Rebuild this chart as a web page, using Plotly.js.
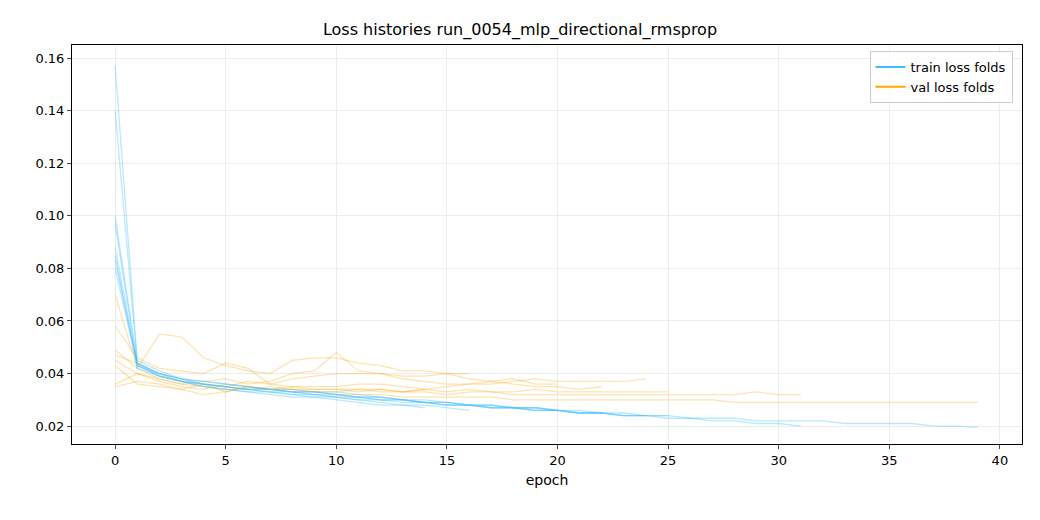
<!DOCTYPE html>
<html><head><meta charset="utf-8">
<script src="https://cdn.plot.ly/plotly-3.0.1.min.js"></script>
<style>body{margin:0;background:#fff}#c{width:1040px;height:520px}</style>
</head><body><div id="c"></div>
<script>
const trainFolds = [
[0.100,0.044,0.040,0.037,0.035,0.034,0.033,0.032,0.031,0.031,0.030,0.029,0.028,0.028,0.027],
[0.157,0.045,0.041,0.038,0.036,0.035,0.034,0.033,0.033,0.032,0.031,0.030,0.029,0.028,0.028,0.027,0.026],
[0.088,0.043,0.039,0.037,0.036,0.035,0.034,0.034,0.033,0.033,0.032,0.031,0.031,0.030,0.029,0.029,0.028,0.028,0.027,0.027,0.026],
[0.140,0.044,0.040,0.038,0.037,0.036,0.035,0.034,0.034,0.033,0.033,0.032,0.031,0.030,0.030,0.029,0.028,0.028,0.027,0.027,0.026,0.025,0.025],
[0.085,0.042,0.039,0.037,0.036,0.035,0.034,0.034,0.033,0.032,0.032,0.031,0.030,0.030,0.029,0.028,0.028,0.027,0.027,0.026,0.026,0.025,0.025,0.024,0.024],
[0.097,0.043,0.040,0.038,0.037,0.036,0.035,0.034,0.033,0.033,0.032,0.031,0.031,0.030,0.029,0.029,0.028,0.028,0.027,0.027,0.026,0.026,0.025,0.025,0.024,0.024],
[0.083,0.044,0.039,0.037,0.035,0.034,0.033,0.033,0.032,0.031,0.031,0.030,0.030,0.029,0.029,0.028,0.028,0.027,0.027,0.026,0.026,0.025,0.025,0.024,0.024,0.023,0.023,0.022,0.022,0.021,0.021,0.020],
[0.080,0.043,0.039,0.037,0.036,0.035,0.034,0.033,0.032,0.032,0.031,0.031,0.030,0.030,0.029,0.028,0.028,0.027,0.027,0.026,0.026,0.025,0.025,0.024,0.024,0.024,0.023,0.023,0.023,0.022,0.022,0.022,0.022,0.021,0.021,0.021,0.021,0.020,0.020,0.0195]
];
const valFolds = [
[0.045,0.040,0.037,0.035,0.034,0.036,0.035,0.034,0.035,0.034,0.034,0.033,0.034,0.033,0.034],
[0.049,0.042,0.055,0.054,0.046,0.043,0.041,0.040,0.045,0.046,0.046,0.044,0.043,0.041,0.041,0.040,0.040],
[0.036,0.040,0.038,0.036,0.037,0.038,0.036,0.037,0.040,0.041,0.048,0.041,0.040,0.039,0.039,0.040,0.038,0.037,0.038,0.036,0.036],
[0.058,0.046,0.042,0.041,0.040,0.044,0.042,0.036,0.035,0.035,0.035,0.036,0.036,0.035,0.034,0.035,0.036,0.037,0.036,0.035,0.035,0.034,0.035],
[0.047,0.044,0.040,0.038,0.036,0.035,0.037,0.036,0.038,0.039,0.040,0.040,0.040,0.038,0.037,0.036,0.036,0.036,0.037,0.038,0.037,0.037,0.037,0.037,0.038],
[0.070,0.042,0.038,0.036,0.035,0.034,0.034,0.035,0.034,0.034,0.034,0.034,0.034,0.033,0.034,0.033,0.034,0.033,0.033,0.034,0.033,0.033,0.033,0.033,0.033,0.033],
[0.035,0.037,0.036,0.034,0.036,0.033,0.035,0.034,0.034,0.033,0.033,0.034,0.033,0.033,0.033,0.032,0.033,0.033,0.032,0.032,0.032,0.032,0.032,0.032,0.032,0.032,0.032,0.032,0.032,0.033,0.032,0.032],
[0.043,0.036,0.035,0.034,0.032,0.033,0.035,0.034,0.033,0.033,0.032,0.032,0.032,0.031,0.031,0.031,0.031,0.031,0.030,0.030,0.030,0.030,0.030,0.030,0.030,0.030,0.030,0.030,0.029,0.029,0.029,0.029,0.029,0.029,0.029,0.029,0.029,0.029,0.029,0.029]
];
const TC='#3fbfff', VC='#ffa500';
const traces=[];
valFolds.forEach(v=>traces.push({x:v.map((_,i)=>i),y:v,mode:'lines',line:{color:VC,width:1.3},opacity:0.3,showlegend:false,hoverinfo:'skip'}));
trainFolds.forEach(v=>traces.push({x:v.map((_,i)=>i),y:v,mode:'lines',line:{color:TC,width:1.3},opacity:0.35,showlegend:false,hoverinfo:'skip'}));
traces.push({x:[null],y:[null],mode:'lines',line:{color:TC,width:2},name:'train loss folds'});
traces.push({x:[null],y:[null],mode:'lines',line:{color:VC,width:2},name:'val loss folds'});
const ax={showline:true,mirror:true,linecolor:'#000',linewidth:1,ticks:'outside',ticklen:4,gridcolor:'#ececec',zeroline:false,tickfont:{size:13,color:'#000'}};
Plotly.newPlot('c',traces,{
 width:1040,height:520,margin:{l:72,r:18,t:45,b:76},
 paper_bgcolor:'#fff',plot_bgcolor:'#fff',
 font:{family:'DejaVu Sans',color:'#000'},
 title:{text:'Loss histories run_0054_mlp_directional_rmsprop',x:0.5,y:0.955,font:{size:16}},
 xaxis:Object.assign({},ax,{range:[-1.95,41.0],tickvals:[0,5,10,15,20,25,30,35,40],title:{text:'epoch',font:{size:14},standoff:8}}),
 yaxis:Object.assign({},ax,{range:[0.0132,0.165],tickvals:[0.02,0.04,0.06,0.08,0.10,0.12,0.14,0.16],tickformat:'.2f'}),
 legend:{x:0.99,y:0.985,xanchor:'right',yanchor:'top',bordercolor:'#ccc',borderwidth:1,bgcolor:'rgba(255,255,255,0.8)',font:{size:13}}
},{displayModeBar:false});
</script></body></html>
